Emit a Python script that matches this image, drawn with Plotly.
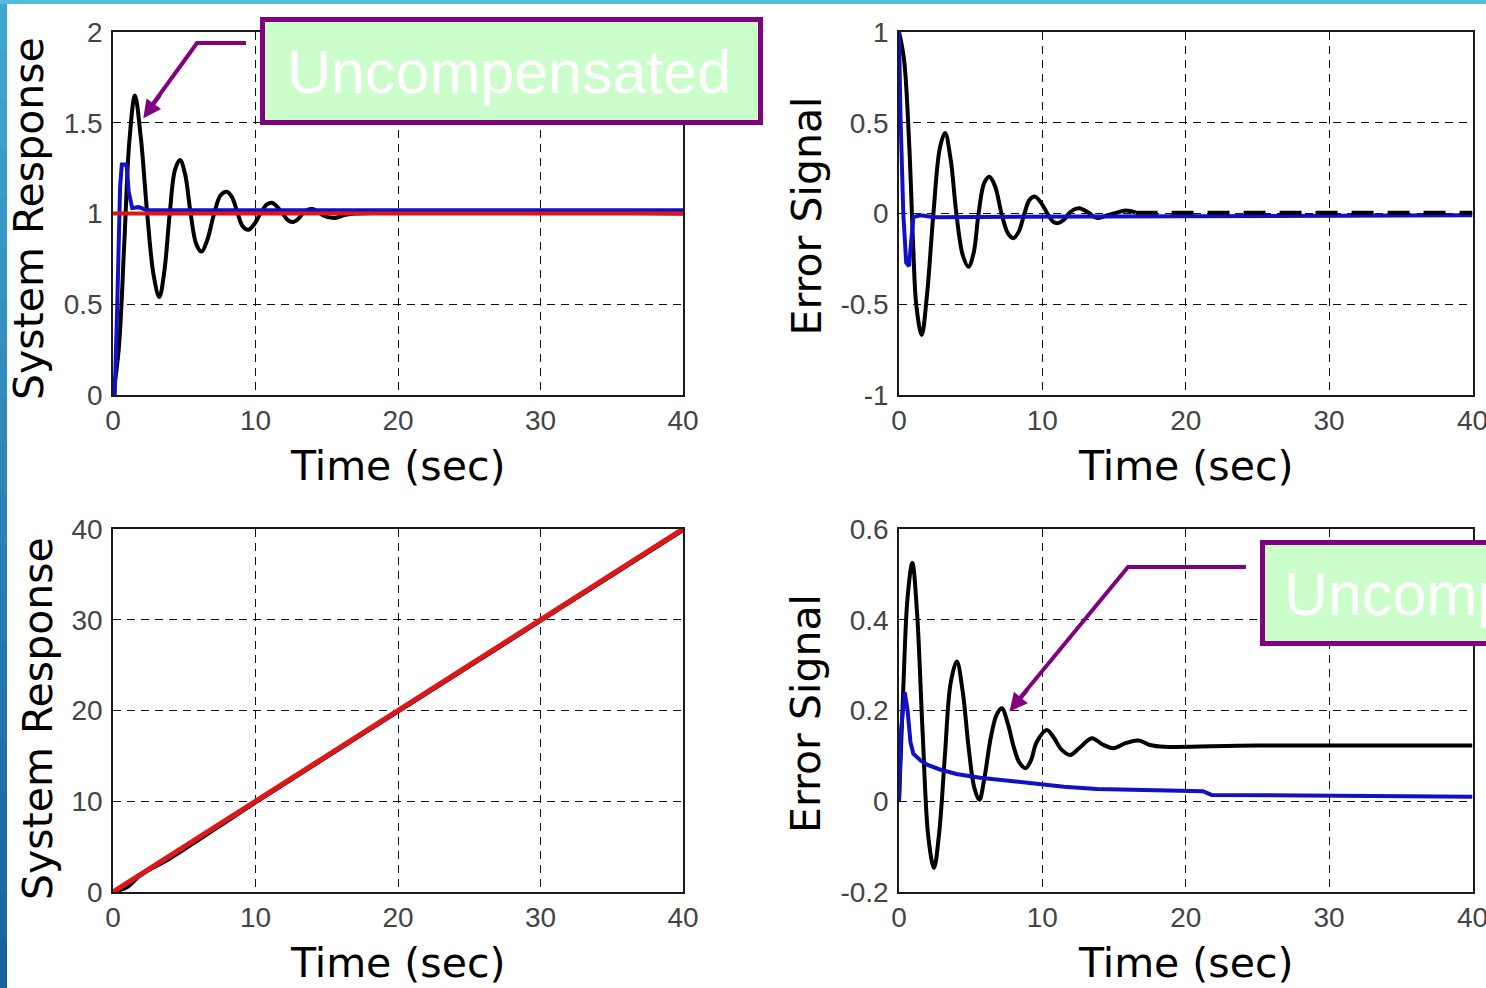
import plotly.graph_objects as go

W, H = 1486, 988

# ---------------- data ----------------
# Top-left: step response (System Response)
t_step_unc = [0, 0.4, 0.8, 1.15, 1.54, 1.95, 2.4, 2.85, 3.25, 3.6, 3.98, 4.35, 4.7, 5.05, 5.45, 5.85,
              6.22, 6.6, 7.1, 7.55, 7.98, 8.35, 8.75, 9.1, 9.5, 9.9, 10.35, 10.8, 11.2, 11.6, 11.9,
              12.25, 12.6, 13.0, 13.3, 13.65, 14.0, 14.4, 14.75, 15.5, 16.2, 17.0, 40]
y_step_unc = [0, 0.25, 0.85, 1.4, 1.65, 1.42, 1.0, 0.66, 0.54, 0.68, 1.0, 1.24, 1.295, 1.22, 1.0, 0.83,
              0.79, 0.85, 1.0, 1.1, 1.12, 1.09, 1.0, 0.93, 0.91, 0.94, 1.0, 1.05, 1.058, 1.03, 1.0,
              0.965, 0.953, 0.97, 1.0, 1.02, 1.025, 1.01, 0.99, 0.975, 0.99, 1.0, 1.0]
t_step_comp = [0, 0.12, 0.3, 0.5, 0.62, 0.95, 1.1, 1.35, 1.8, 2.4, 40]
y_step_comp = [0, 0.0, 0.5, 1.15, 1.27, 1.27, 1.12, 1.03, 1.035, 1.018, 1.018]
t_step_ref = [0, 40]
y_step_ref = [1.0, 1.0]

# Top-right: step error (Error Signal)
t_err_unc = [0, 0.35, 0.7, 1.0, 1.2, 1.58, 1.95, 2.4, 2.85, 3.21, 3.6, 4.0, 4.45, 4.84, 5.2, 5.55,
             5.95, 6.31, 6.7, 7.15, 7.6, 7.98, 8.35, 8.75, 9.1, 9.49, 9.9, 10.35, 10.75, 11.1, 11.5,
             11.85, 12.2, 12.6, 13.0, 13.3, 13.65, 14.0, 14.5, 15.0, 15.8, 16.5]
y_err_unc = [1.0, 0.85, 0.4, -0.2, -0.5, -0.67, -0.45, 0.0, 0.36, 0.443, 0.3, 0.0, -0.23, -0.293, -0.22, 0.0,
             0.17, 0.203, 0.15, 0.0, -0.11, -0.136, -0.1, 0.0, 0.075, 0.093, 0.06, 0.0, -0.045, -0.053, -0.035,
             0.0, 0.022, 0.029, 0.015, 0.0, -0.02, -0.024, -0.01, 0.0, 0.016, 0.006]
t_err_unc_tail = [16.5, 40]
y_err_unc_tail = [0.004, 0.004]
t_err_comp = [0, 0.1, 0.3, 0.5, 0.7, 0.85, 1.0, 1.5, 2.5, 40]
y_err_comp = [1.0, 0.55, 0.0, -0.27, -0.29, -0.18, -0.02, -0.01, -0.02, -0.01]

# Bottom-left: ramp response (System Response)
t_ramp_unc = [0, 1, 2, 3, 4, 10, 20, 30, 40]
y_ramp_unc = [0, 0.55, 2.0, 2.85, 3.7, 9.88, 19.88, 29.88, 39.88]
t_ramp_comp = [0, 1, 40]
y_ramp_comp = [0, 0.9, 39.99]
t_ramp_ref = [0, 40]
y_ramp_ref = [0, 40]

# Bottom-right: ramp error (Error Signal)
t_rerr_unc = [0, 0.3, 0.6, 0.93, 1.25, 1.65, 2.05, 2.44, 2.8, 3.2, 3.6, 4.03, 4.45, 4.85, 5.25, 5.6,
              5.95, 6.4, 6.8, 7.17, 7.6, 8.0, 8.4, 8.84, 9.2, 9.6, 10.31, 10.8, 11.3, 11.94, 12.6,
              13.45, 14.2, 14.96, 15.8, 16.7, 17.5, 18.5, 25, 40]
y_rerr_unc = [0, 0.25, 0.45, 0.525, 0.42, 0.15, -0.08, -0.147, -0.07, 0.1, 0.26, 0.308, 0.24, 0.12, 0.03, 0.003,
              0.05, 0.14, 0.19, 0.205, 0.17, 0.12, 0.085, 0.073, 0.09, 0.13, 0.157, 0.14, 0.115, 0.102, 0.118,
              0.139, 0.125, 0.117, 0.128, 0.134, 0.124, 0.12, 0.123, 0.123]
t_rerr_comp = [0, 0.15, 0.4, 0.6, 0.8, 1.0, 1.5, 2.0, 2.86, 4.0, 5.65, 7.5, 9.6, 11.5, 13.8, 17.0,
               21.2, 21.8, 25, 30, 35, 40]
y_rerr_comp = [0, 0.16, 0.24, 0.2, 0.13, 0.105, 0.09, 0.08, 0.07, 0.06, 0.052, 0.045, 0.037, 0.032, 0.027, 0.024,
               0.022, 0.014, 0.013, 0.011, 0.01, 0.01]

# Axis ticks
x_ticks = [0, 10, 20, 30, 40]
x_ticktext = ["0", "10", "20", "30", "40"]
y1_ticks = [0, 0.5, 1, 1.5, 2]
y1_ticktext = ["0", "0.5", "1", "1.5", "2"]
y2_ticks = [-1, -0.5, 0, 0.5, 1]
y2_ticktext = ["-1", "-0.5", "0", "0.5", "1"]
y3_ticks = [0, 10, 20, 30, 40]
y3_ticktext = ["0", "10", "20", "30", "40"]
y4_ticks = [-0.2, 0, 0.2, 0.4, 0.6]
y4_ticktext = ["-0.2", "0", "0.2", "0.4", "0.6"]

x_title = "Time (sec)"
y_title_resp = "System Response"
y_title_err = "Error Signal"
callout_text = "Uncompensated"

# ---------------- styling ----------------
BLACK = "#000000"
BLUE = "#1010c8"
RED = "#e01515"
PURPLE = "#800080"
BOXFILL = "#ccfecc"
LW = 4


def X(px):
    return px / W


def Y(py):
    return 1 - py / H


fig = go.Figure()


def add(t, y, color, xa, ya, shape="spline", dash=None, width=LW):
    fig.add_trace(go.Scatter(x=t, y=y, mode="lines", xaxis=xa, yaxis=ya,
                             line=dict(color=color, width=width, shape=shape, dash=dash),
                             showlegend=False, hoverinfo="skip"))


add(t_step_unc, y_step_unc, BLACK, "x", "y")
add(t_step_comp, y_step_comp, BLUE, "x", "y", shape="linear")
add(t_step_ref, y_step_ref, RED, "x", "y", shape="linear")

add(t_err_unc, y_err_unc, BLACK, "x2", "y2")
add(t_err_comp, y_err_comp, BLUE, "x2", "y2", shape="linear")
add(t_err_unc_tail, y_err_unc_tail, BLACK, "x2", "y2", shape="linear", dash="22px,14px")

add(t_ramp_unc, y_ramp_unc, BLACK, "x3", "y3")
add(t_ramp_comp, y_ramp_comp, BLUE, "x3", "y3", shape="linear")
add(t_ramp_ref, y_ramp_ref, RED, "x3", "y3", shape="linear", width=5)

add(t_rerr_unc, y_rerr_unc, BLACK, "x4", "y4")
add(t_rerr_comp, y_rerr_comp, BLUE, "x4", "y4", shape="linear")

TICKFONT = dict(family="Liberation Sans, Arial, sans-serif", size=28, color="#444444")
TITLEFONT = dict(family="DejaVu Sans, Verdana, sans-serif", size=41, color="#000000")

LEFT = [X(113), X(683)]
RIGHT = [X(899), X(1472.5)]
TOP = [Y(395), Y(32)]
BOTTOM = [Y(892), Y(529)]


def xaxis(domain, anchor):
    return dict(domain=domain, anchor=anchor, range=[0, 40], tickvals=x_ticks, ticktext=x_ticktext,
                showgrid=True, gridcolor="#111111", gridwidth=1, griddash="8px,6px",
                zeroline=False, showline=True, mirror=True, linecolor="#1a1a1a", linewidth=1.5,
                ticks="", tickfont=TICKFONT, ticklabelstandoff=0, ticklabeloverflow="allow",
                automargin=False, fixedrange=True)


def yaxis(domain, anchor, rng, vals, text):
    return dict(domain=domain, anchor=anchor, range=rng, tickvals=vals, ticktext=text,
                showgrid=True, gridcolor="#111111", gridwidth=1, griddash="8px,6px",
                zeroline=False, showline=True, mirror=True, linecolor="#1a1a1a", linewidth=1.5,
                ticks="", tickfont=TICKFONT, ticklabelstandoff=3, ticklabeloverflow="allow",
                automargin=False, fixedrange=True)


annotations = []
# axis titles
for cx, cy in [(398, 466), (1185.7, 466), (398, 963), (1185.7, 963)]:
    annotations.append(dict(text=x_title, x=X(cx), y=Y(cy), xref="paper", yref="paper",
                            xanchor="center", yanchor="middle", showarrow=False, font=TITLEFONT))
for txt, cx, cy in [(y_title_resp, 29, 219), (y_title_err, 806, 216.5),
                    (y_title_resp, 38, 719), (y_title_err, 806, 714)]:
    annotations.append(dict(text=txt, x=X(cx), y=Y(cy), xref="paper", yref="paper", textangle=-90,
                            xanchor="center", yanchor="middle", showarrow=False, font=TITLEFONT))

CALLFONT = dict(family="Liberation Sans, Arial, sans-serif", size=61, color="#ffffff")
annotations.append(dict(text=callout_text, x=X(508.5), y=Y(72), xref="paper", yref="paper",
                        xanchor="center", yanchor="middle", showarrow=False, font=CALLFONT, borderpad=0))
annotations.append(dict(text=callout_text, x=X(1283), y=Y(594), xref="paper", yref="paper",
                        xanchor="left", yanchor="middle", showarrow=False, font=CALLFONT, borderpad=0))
# arrow heads
annotations.append(dict(text="", x=X(143.3), y=Y(118.3), xref="paper", yref="paper",
                        ax=17.5, ay=-24.4, axref="pixel", ayref="pixel", showarrow=True,
                        arrowhead=2, arrowsize=0.9, arrowwidth=4, arrowcolor=PURPLE, standoff=0))
annotations.append(dict(text="", x=X(1009.5), y=Y(711.5), xref="paper", yref="paper",
                        ax=19, ay=-23.2, axref="pixel", ayref="pixel", showarrow=True,
                        arrowhead=2, arrowsize=0.9, arrowwidth=4, arrowcolor=PURPLE, standoff=0))


def path(points):
    s = "M {} {}".format(X(points[0][0]), Y(points[0][1]))
    for px, py in points[1:]:
        s += " L {} {}".format(X(px), Y(py))
    return s


shapes = []
# callout boxes
shapes.append(dict(type="rect", xref="paper", yref="paper", x0=X(262.5), x1=X(760.5), y0=Y(122.5), y1=Y(19.5),
                   fillcolor=BOXFILL, line=dict(color=PURPLE, width=5), layer="above"))
shapes.append(dict(type="rect", xref="paper", yref="paper", x0=X(1262.5), x1=X(1800), y0=Y(643.5), y1=Y(542.5),
                   fillcolor=BOXFILL, line=dict(color=PURPLE, width=5), layer="above"))
# callout leader lines
shapes.append(dict(type="path", xref="paper", yref="paper", path=path([(246, 43), (197, 43), (150, 108)]),
                   line=dict(color=PURPLE, width=4), layer="above"))
shapes.append(dict(type="path", xref="paper", yref="paper", path=path([(1246, 567), (1128, 567), (1015, 704)]),
                   line=dict(color=PURPLE, width=4), layer="above"))

# slide frame: left gradient strip and top strip
n = 20
c_top = (62, 166, 210)
c_bot = (24, 98, 156)
for i in range(n):
    f = i / (n - 1)
    c = tuple(int(round(c_top[k] + (c_bot[k] - c_top[k]) * f)) for k in range(3))
    shapes.append(dict(type="rect", xref="paper", yref="paper", x0=0, x1=X(7),
                       y0=Y(H * (i + 1) / n + 0.5), y1=Y(H * i / n),
                       fillcolor="rgb{}".format(c), line=dict(width=0), layer="above"))
shapes.append(dict(type="rect", xref="paper", yref="paper", x0=0, x1=1, y0=Y(4), y1=1,
                   fillcolor="#52bde0", line=dict(width=0), layer="above"))

fig.update_layout(
    width=W, height=H, margin=dict(l=0, r=0, t=0, b=0, pad=0),
    paper_bgcolor="white", plot_bgcolor="white", showlegend=False,
    xaxis=xaxis(LEFT, "y"), yaxis=yaxis(TOP, "x", [0, 2], y1_ticks, y1_ticktext),
    xaxis2=xaxis(RIGHT, "y2"), yaxis2=yaxis(TOP, "x2", [-1, 1], y2_ticks, y2_ticktext),
    xaxis3=xaxis(LEFT, "y3"), yaxis3=yaxis(BOTTOM, "x3", [0, 40], y3_ticks, y3_ticktext),
    xaxis4=xaxis(RIGHT, "y4"), yaxis4=yaxis(BOTTOM, "x4", [-0.2, 0.6], y4_ticks, y4_ticktext),
    annotations=annotations, shapes=shapes,
)

fig.write_html("out.html", config=dict(displayModeBar=False),
               post_script="document.body.style.margin='0';document.body.style.overflow='hidden';")
